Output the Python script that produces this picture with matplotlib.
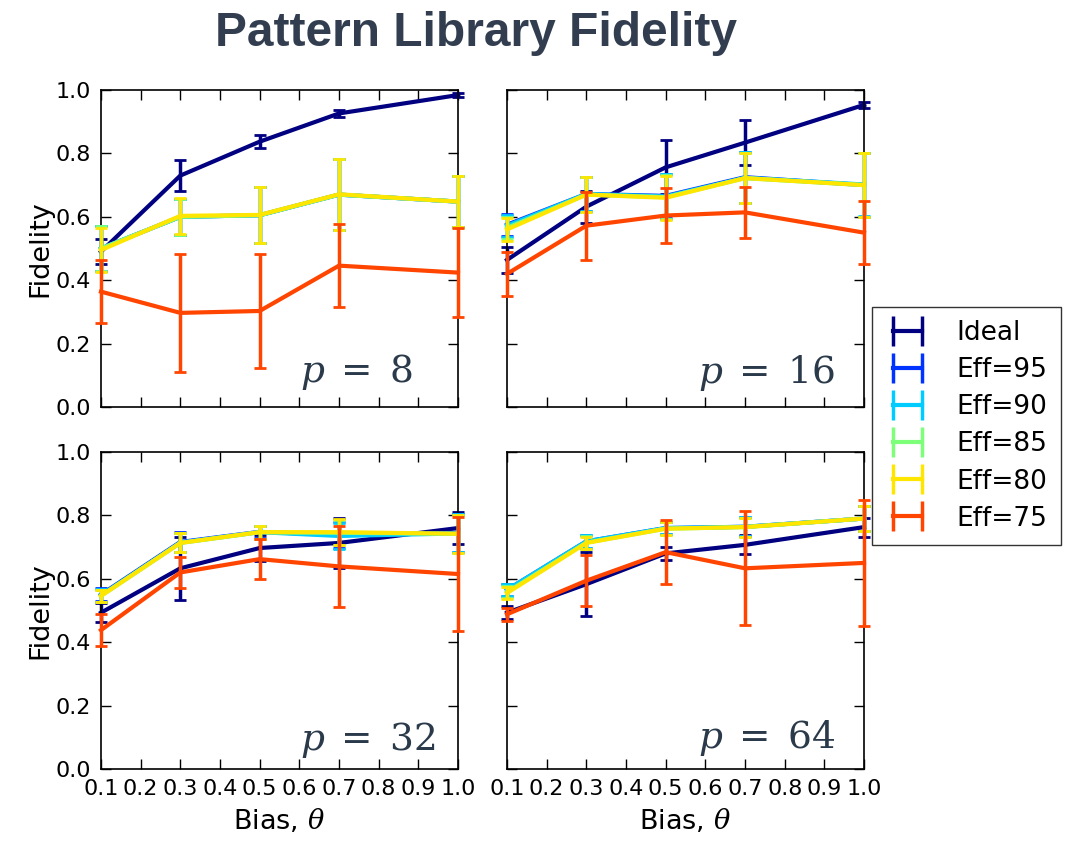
import matplotlib
matplotlib.use("Agg")
import matplotlib.pyplot as plt
from matplotlib.lines import Line2D

bias = [0.1, 0.3, 0.5, 0.7, 1.0]
series = ["Ideal", "Eff=95", "Eff=90", "Eff=85", "Eff=80", "Eff=75"]
colors = ["#000080", "#0033ff", "#00ccff", "#7dff7a", "#ffe600", "#ff4500"]
panels = ["$p\\;=\\;8$", "$p\\;=\\;16$", "$p\\;=\\;32$", "$p\\;=\\;64$"]

# mean fidelity per panel, one row per series (order of `series`)
mean_p8 = [
    [0.49, 0.73, 0.837, 0.926, 0.984],
    [0.50, 0.60, 0.605, 0.670, 0.648],
    [0.50, 0.60, 0.605, 0.670, 0.648],
    [0.50, 0.60, 0.605, 0.670, 0.648],
    [0.495, 0.603, 0.606, 0.671, 0.648],
    [0.364, 0.297, 0.303, 0.446, 0.424],
]
err_p8 = [
    [0.04, 0.048, 0.02, 0.01, 0.005],
    [0.07, 0.056, 0.088, 0.112, 0.08],
    [0.07, 0.056, 0.088, 0.112, 0.08],
    [0.07, 0.056, 0.088, 0.112, 0.08],
    [0.07, 0.056, 0.088, 0.112, 0.08],
    [0.10, 0.185, 0.18, 0.13, 0.14],
]
mean_p16 = [
    [0.464, 0.632, 0.756, 0.834, 0.953],
    [0.575, 0.672, 0.666, 0.725, 0.700],
    [0.572, 0.672, 0.664, 0.723, 0.702],
    [0.565, 0.670, 0.662, 0.722, 0.700],
    [0.560, 0.670, 0.660, 0.722, 0.700],
    [0.420, 0.572, 0.604, 0.614, 0.550],
]
err_p16 = [
    [0.04, 0.05, 0.085, 0.07, 0.01],
    [0.035, 0.055, 0.07, 0.08, 0.10],
    [0.035, 0.055, 0.07, 0.08, 0.10],
    [0.035, 0.055, 0.07, 0.08, 0.10],
    [0.035, 0.055, 0.07, 0.08, 0.10],
    [0.07, 0.107, 0.088, 0.08, 0.10],
]
mean_p32 = [
    [0.493, 0.633, 0.697, 0.713, 0.760],
    [0.550, 0.716, 0.748, 0.738, 0.745],
    [0.548, 0.714, 0.747, 0.735, 0.743],
    [0.546, 0.713, 0.747, 0.745, 0.742],
    [0.546, 0.713, 0.747, 0.747, 0.742],
    [0.438, 0.620, 0.662, 0.639, 0.615],
]
err_p32 = [
    [0.03, 0.10, 0.04, 0.08, 0.05],
    [0.02, 0.03, 0.02, 0.04, 0.06],
    [0.02, 0.03, 0.02, 0.04, 0.06],
    [0.02, 0.03, 0.02, 0.04, 0.06],
    [0.02, 0.03, 0.02, 0.04, 0.06],
    [0.05, 0.05, 0.063, 0.127, 0.18],
]
mean_p64 = [
    [0.493, 0.583, 0.680, 0.707, 0.763],
    [0.565, 0.718, 0.760, 0.764, 0.790],
    [0.565, 0.718, 0.760, 0.764, 0.790],
    [0.558, 0.714, 0.758, 0.763, 0.790],
    [0.555, 0.713, 0.758, 0.763, 0.790],
    [0.488, 0.594, 0.684, 0.633, 0.650],
]
err_p64 = [
    [0.02, 0.10, 0.02, 0.03, 0.03],
    [0.02, 0.02, 0.02, 0.03, 0.04],
    [0.02, 0.02, 0.02, 0.03, 0.04],
    [0.02, 0.02, 0.02, 0.03, 0.04],
    [0.02, 0.02, 0.02, 0.03, 0.04],
    [0.02, 0.08, 0.10, 0.18, 0.20],
]
means = [mean_p8, mean_p16, mean_p32, mean_p64]
errs = [err_p8, err_p16, err_p32, err_p64]

xticks = [0.1, 0.2, 0.3, 0.4, 0.5, 0.6, 0.7, 0.8, 0.9, 1.0]
xticklabels = ["0.1", "0.2", "0.3", "0.4", "0.5", "0.6", "0.7", "0.8", "0.9", "1.0"]
yticks = [0.0, 0.2, 0.4, 0.6, 0.8, 1.0]
yticklabels = ["0.0", "0.2", "0.4", "0.6", "0.8", "1.0"]

plt.rcParams["mathtext.fontset"] = "dejavuserif"
fig = plt.figure(figsize=(10.81, 8.41), dpi=100)

lefts = [0.0934, 0.469]
bottoms = [0.516, 0.0856]
w = 0.3303
h = 0.377
tick_font = dict(family="DejaVu Sans", size=16)
label_font = dict(family="DejaVu Sans", size=19.5)
label_pos = [(0.557, 0.08), (0.535, 0.075), (0.557, 0.06), (0.535, 0.066)]

for k in range(4):
    r, c = divmod(k, 2)
    ax = fig.add_axes([lefts[c], bottoms[r], w, h])
    for i, name in enumerate(series):
        ax.errorbar(bias, means[k][i], yerr=errs[k][i], color=colors[i],
                    lw=3, elinewidth=2.5, capsize=4, capthick=2,
                    label=name, clip_on=False, zorder=2 + i)
    ax.set_xlim(0.1, 1.0)
    ax.set_ylim(0.0, 1.0)
    ax.set_xticks(xticks)
    ax.set_yticks(yticks)
    ax.tick_params(direction="in", top=True, right=True, length=7, width=1, pad=7)
    for s in ax.spines.values():
        s.set_linewidth(1.2)
    if r == 1:
        ax.set_xticklabels(xticklabels, fontdict=tick_font)
        ax.set_xlabel("Bias, $\\theta$", fontdict=label_font, labelpad=6)
    else:
        ax.set_xticklabels([])
    if c == 0:
        ax.set_yticklabels(yticklabels, fontdict=tick_font)
        ax.set_ylabel("Fidelity", fontdict=label_font, labelpad=2)
    else:
        ax.set_yticklabels([])
    tx, ty = label_pos[k]
    ax.text(tx, ty, panels[k], transform=ax.transAxes, ha="left", va="baseline",
            fontsize=27, color="#2b3a4a")

handles = [Line2D([0], [0], color=col, lw=3, marker="|", markersize=22,
                  markeredgewidth=2.5) for col in colors]
fig.legend(handles, series, loc="upper left", bbox_to_anchor=(872 / 1081, 1 - 307 / 841),
           numpoints=2, fontsize=19, frameon=True, fancybox=False, edgecolor="black",
           handlelength=1.7, labelspacing=0.42, borderpad=0.5, handletextpad=1.0,
           borderaxespad=0)

fig.text(0.44, 0.96, "Pattern Library Fidelity", ha="center", va="center",
         fontsize=34.5, fontweight="bold", color="#323e50", family="Liberation Sans")

fig.savefig("out.png", dpi=100)
